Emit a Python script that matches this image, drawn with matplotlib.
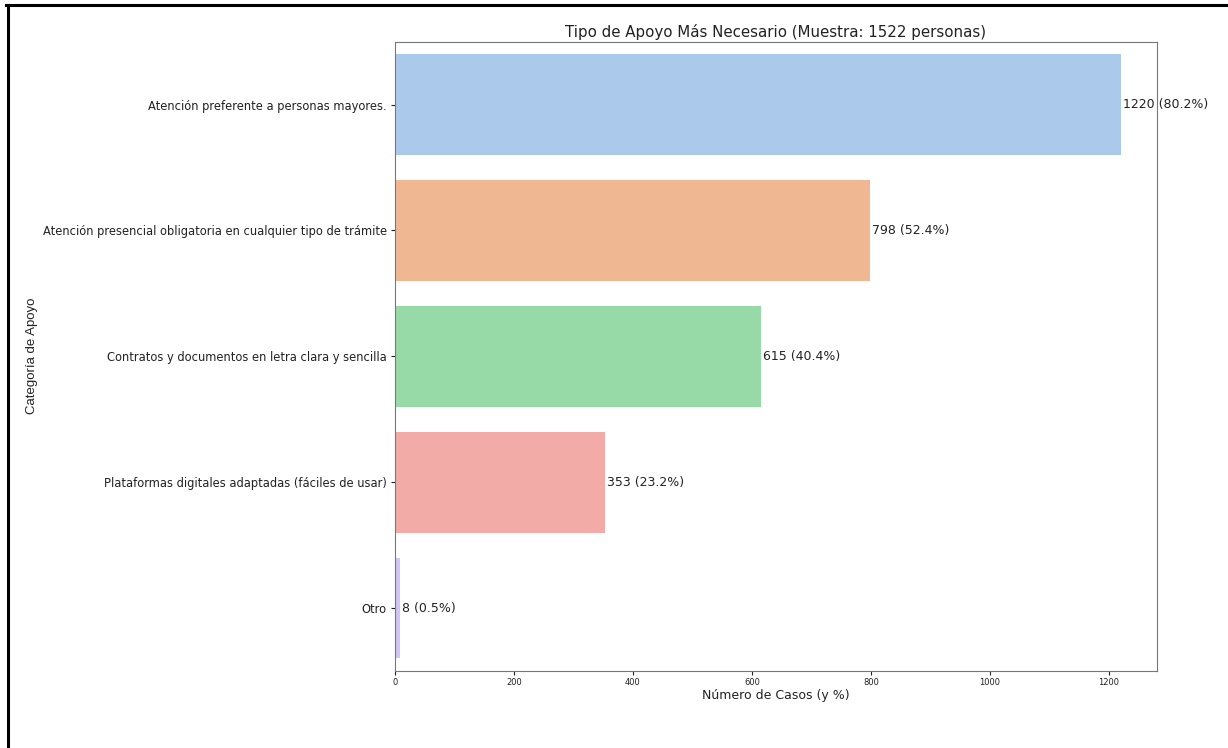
import pandas as pd
import seaborn as sns
import matplotlib.pyplot as plt
from matplotlib.lines import Line2D

muestra = 1522
categorias = [
    'Atención preferente a personas mayores.',
    'Atención presencial obligatoria en cualquier tipo de trámite',
    'Contratos y documentos en letra clara y sencilla',
    'Plataformas digitales adaptadas (fáciles de usar)',
    'Otro',
]
casos = [1220, 798, 615, 353, 8]

df = pd.DataFrame({'categoria': categorias, 'casos': casos})

fig = plt.figure(figsize=(12.28, 7.48), dpi=100)
ax = fig.add_axes([0.3217, 0.103, 0.6205, 0.8413])

sns.barplot(data=df, x='casos', y='categoria', hue='categoria', palette='pastel',
            legend=False, ax=ax)

for i, v in enumerate(casos):
    ax.text(v + 4, i, f'{v} ({v / muestra * 100:.1f}%)', va='center', fontsize=9,
            color='#222222')

ax.set_title(f'Tipo de Apoyo Más Necesario (Muestra: {muestra} personas)',
             fontsize=10.8, pad=3.5, color='#222222')
ax.set_xlabel('Número de Casos (y %)', fontsize=9, labelpad=1, color='#222222')
ax.set_ylabel('Categoría de Apoyo', fontsize=9.5, family='Liberation Sans',
              color='#222222')
ax.yaxis.set_label_coords(-0.468, 0.5)
ax.tick_params(axis='x', labelsize=6, length=2.9, pad=2.5, colors='#222222')
ax.tick_params(axis='y', labelsize=8.3, length=2.9, pad=2.9, colors='#222222')
for s in ax.spines.values():
    s.set_color('#777777')

# marco negro del recorte original (arriba e izquierda)
fig.add_artist(Line2D([0.0065, 0.0065], [0, 0.993], transform=fig.transFigure,
                      color='black', linewidth=2.2))
fig.add_artist(Line2D([0.005, 1.0], [0.993, 0.993], transform=fig.transFigure,
                      color='black', linewidth=2.2))

fig.savefig('out.png', dpi=100)
